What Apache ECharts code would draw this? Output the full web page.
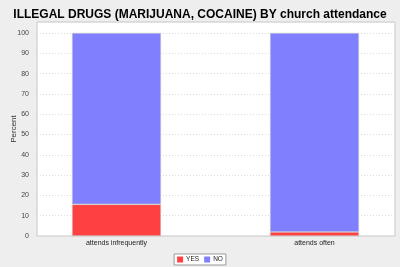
<!DOCTYPE html>
<html><head><meta charset="utf-8">
<script src="https://cdn.jsdelivr.net/npm/echarts@6/dist/echarts.min.js"></script>
<style>html,body{margin:0;padding:0;background:#eeeeee}#c{width:400px;height:267px}</style>
</head><body><div id="c"></div>
<script>
const title = 'ILLEGAL DRUGS (MARIJUANA, COCAINE) BY church attendance';
const categories = ['attends infrequently', 'attends often'];
const yesValues = [15.6, 2.0];
const noValues = [84.4, 98.0];
const seriesNames = ['YES', 'NO'];
const yTicks = [0, 10, 20, 30, 40, 50, 60, 70, 80, 90, 100];

const chart = echarts.init(document.getElementById('c'), null, {renderer: 'canvas'});
const yMax = 105.4;
chart.setOption({
  backgroundColor: '#eeeeee',
  animation: false,
  title: {
    text: title, left: 'center', top: 4,
    textStyle: {fontFamily: 'Liberation Sans', fontWeight: 'bold', fontSize: 12, color: '#000'}
  },
  legend: {
    bottom: 2, left: 'center', itemWidth: 6, itemHeight: 6, itemGap: 5,
    padding: [2, 3], borderColor: '#999', borderWidth: 1, backgroundColor: '#fff',
    icon: 'rect', borderRadius: 0,
    itemStyle: {borderWidth: 0},
    textStyle: {fontFamily: 'Liberation Sans', fontSize: 6.5, color: '#222', padding: [0, 0, 0, -2]},
    data: seriesNames
  },
  grid: [
    {left: 37, right: 5, top: 22, bottom: 31, show: true, backgroundColor: '#fff', borderColor: '#c8c8c8', borderWidth: 1, outerBoundsMode: 'none', containLabel: false},
    {left: 17.5, width: 396, top: 22, bottom: 31, show: false, outerBoundsMode: 'none', containLabel: false}
  ],
  xAxis: [
    {gridIndex: 0, type: 'category', data: categories, show: false},
    {gridIndex: 1, type: 'category', data: categories,
     axisLine: {show: false}, axisTick: {show: false},
     axisLabel: {fontFamily: 'Liberation Sans', fontSize: 7, color: '#222', margin: 4}}
  ],
  yAxis: [
    {gridIndex: 0, type: 'value', min: 0, max: yMax, interval: 10,
     name: 'Percent', nameLocation: 'middle', nameGap: 19, nameRotate: 90, nameMoveOverlap: false,
     nameTextStyle: {fontFamily: 'Liberation Sans', fontSize: 8, color: '#333'},
     axisLine: {show: false}, axisTick: {show: false},
     axisLabel: {fontFamily: 'Liberation Sans', fontSize: 7, color: '#444', margin: 8,
       formatter: v => yTicks.includes(v) ? String(v) : ''},
     splitLine: {show: true, lineStyle: {color: '#dcdcdc', type: [1, 2], width: 1}}},
    {gridIndex: 1, type: 'value', min: 0, max: yMax, show: false, splitLine: {show: false}}
  ],
  series: [
    {name: seriesNames[0], type: 'bar', xAxisIndex: 1, yAxisIndex: 1, stack: 's', data: yesValues,
     barWidth: 89, itemStyle: {color: '#ff4040', borderColor: '#c8c8c8', borderWidth: 0.6}},
    {name: seriesNames[1], type: 'bar', xAxisIndex: 1, yAxisIndex: 1, stack: 's', data: noValues,
     barWidth: 89, itemStyle: {color: '#8080ff', borderColor: '#c8c8c8', borderWidth: 0.6}}
  ]
});
</script></body></html>
